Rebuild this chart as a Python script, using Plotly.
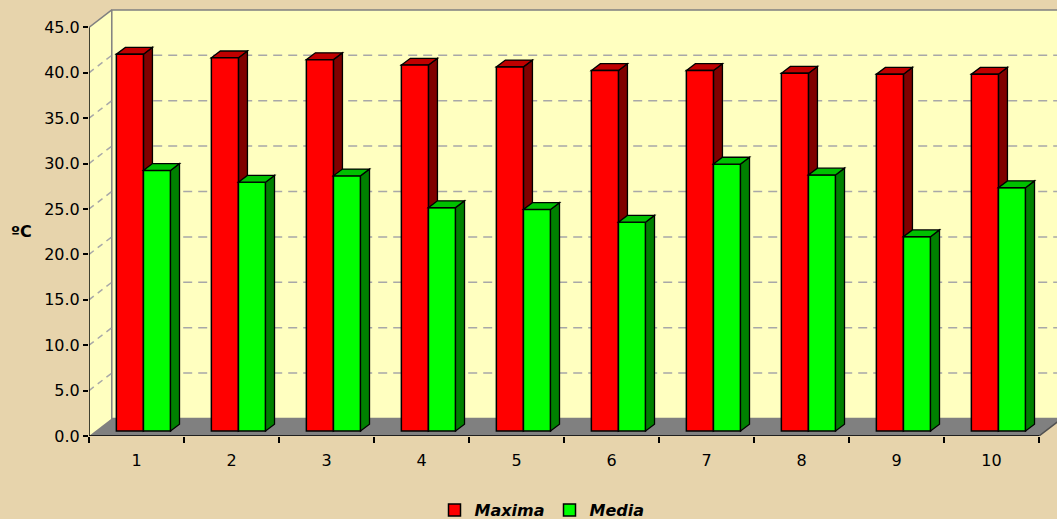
import plotly.graph_objects as go

# ---- data ----
categories = [1, 2, 3, 4, 5, 6, 7, 8, 9, 10]
tick_labels = ["1", "2", "3", "4", "5", "6", "7", "8", "9", "10"]
maxima = [41.5, 41.1, 40.9, 40.3, 40.1, 39.7, 39.7, 39.4, 39.3, 39.3]
media = [28.7, 27.4, 28.1, 24.6, 24.4, 23.0, 29.4, 28.2, 21.4, 26.8]
y_ticks = [0, 5, 10, 15, 20, 25, 30, 35, 40, 45]
y_tick_labels = ["%.1f" % v for v in y_ticks]

# ---- style constants (pseudo-3D geometry in axis units) ----
FONT = "DejaVu Sans"
FS = 16
PX_X = 95.0          # px per category
PX_Y = 9.08          # px per degree
WALL_DX = 22.8 / PX_X
WALL_DY = 17.5 / PX_Y
BAR_DX = 9.0 / PX_X
BAR_DY = 6.8 / PX_Y
BAR_BASE = 5.0 / PX_Y
BAR_W = 0.285
RED_OFF = -0.212
GREEN_OFF = RED_OFF + BAR_W
WALL = "#FFFFC0"
BG = "#E7D4AC"

L, T, B = 89, 7, 83
W, H = 1057, 519
x_max = 0.5 + (W - L) / PX_X
y_max = (H - B - T) / PX_Y

fig = go.Figure()
fig.add_trace(go.Bar(x=categories, y=maxima, base=BAR_BASE, name="Maxima",
                     offset=RED_OFF, width=BAR_W,
                     marker=dict(color="#FF0000", line=dict(color="black", width=1.5))))
fig.add_trace(go.Bar(x=categories, y=media, base=BAR_BASE, name="Media",
                     offset=GREEN_OFF, width=BAR_W,
                     marker=dict(color="#00FF00", line=dict(color="black", width=1.5))))

shapes = []
def path(pts):
    return "M " + " L ".join("%f,%f" % p for p in pts) + " Z"

x0 = 0.5
x1 = 0.5 + len(categories)
top = y_ticks[-1]
# left wall
shapes.append(dict(type="path", xref="x", yref="y", layer="below",
                   path=path([(x0, 0), (x0, top), (x0 + WALL_DX, top + WALL_DY), (x0 + WALL_DX, WALL_DY)]),
                   fillcolor=WALL, line=dict(width=0)))
# back wall
shapes.append(dict(type="rect", xref="x", yref="y", layer="below",
                   x0=x0 + WALL_DX, x1=x_max + 1, y0=WALL_DY, y1=top + WALL_DY,
                   fillcolor=WALL, line=dict(color="#808080", width=1.5)))
# gridlines
for v in y_ticks[1:-1]:
    shapes.append(dict(type="line", xref="x", yref="y", layer="below",
                       x0=x0, y0=v, x1=x0 + WALL_DX, y1=v + WALL_DY,
                       line=dict(color="#A8A8A8", width=1.5, dash="6px,5px")))
    shapes.append(dict(type="line", xref="x", yref="y", layer="below",
                       x0=x0 + WALL_DX + 0.12, y0=v + WALL_DY, x1=x_max + 1, y1=v + WALL_DY,
                       line=dict(color="#A8A8A8", width=1.5, dash="9px,6px")))
# top diagonal of side wall
shapes.append(dict(type="line", xref="x", yref="y", layer="below",
                   x0=x0, y0=top, x1=x0 + WALL_DX, y1=top + WALL_DY,
                   line=dict(color="#808080", width=1.5)))
# floor
shapes.append(dict(type="path", xref="x", yref="y", layer="below",
                   path=path([(x0, 0), (x1, 0), (x1 + WALL_DX, WALL_DY), (x0 + WALL_DX, WALL_DY)]),
                   fillcolor="#808080", line=dict(width=0)))
shapes.append(dict(type="line", xref="x", yref="y", layer="below",
                   x0=x1, y0=0, x1=x1 + WALL_DX, y1=WALL_DY,
                   line=dict(color="#505050", width=1.5)))
shapes.append(dict(type="line", xref="x", yref="y", layer="below",
                   x0=x0, y0=0, x1=x1, y1=0, line=dict(color="black", width=1.5)))
shapes.append(dict(type="line", xref="x", yref="y", layer="below",
                   x0=x0, y0=0, x1=x0, y1=top, line=dict(color="black", width=1.5)))

def faces(values, off, side_col, top_col, layer):
    out = []
    for c, v in zip(categories, values):
        xl = c + off
        xr = xl + BAR_W
        yb = BAR_BASE
        yt = BAR_BASE + v
        out.append(dict(type="path", xref="x", yref="y", layer=layer,
                        path=path([(xr, yb), (xr, yt), (xr + BAR_DX, yt + BAR_DY), (xr + BAR_DX, yb + BAR_DY)]),
                        fillcolor=side_col, line=dict(color="black", width=1.3)))
        out.append(dict(type="path", xref="x", yref="y", layer=layer,
                        path=path([(xl, yt), (xr, yt), (xr + BAR_DX, yt + BAR_DY), (xl + BAR_DX, yt + BAR_DY)]),
                        fillcolor=top_col, line=dict(color="black", width=1.3)))
    return out

shapes += faces(maxima, RED_OFF, "#800000", "#C00000", "below")
shapes += faces(media, GREEN_OFF, "#008000", "#00C000", "above")

fig.update_layout(
    width=W, height=H,
    margin=dict(l=L, r=0, t=T, b=B),
    paper_bgcolor=BG, plot_bgcolor="rgba(0,0,0,0)",
    barmode="overlay",
    shapes=shapes,
    font=dict(family=FONT, size=FS, color="black"),
    showlegend=True,
    hovermode=False,
    legend=dict(orientation="h", xref="container", yref="container",
                x=542 / W, xanchor="center", y=(H - 510) / H, yanchor="middle",
                font=dict(family=FONT, size=FS, weight="bold", style="italic"),
                bgcolor="rgba(0,0,0,0)", traceorder="normal", itemwidth=30),
    xaxis=dict(range=[0.5, x_max], tickmode="array", tickvals=categories, ticktext=tick_labels,
               ticks="outside", ticklen=10, tickcolor="rgba(0,0,0,0)",
               minor=dict(tickmode="array", tickvals=[c - 0.5 for c in categories] + [categories[-1] + 0.5],
                          ticks="outside", ticklen=6, tickcolor="black", tickwidth=1.5, showgrid=False),
               showline=False, showgrid=False, zeroline=False, fixedrange=True),
    yaxis=dict(range=[0, y_max], tickmode="array", tickvals=y_ticks, ticktext=y_tick_labels,
               ticks="outside", ticklen=5, tickcolor="black", tickwidth=1.5,
               showline=False, showgrid=False, zeroline=False, fixedrange=True),
    annotations=[dict(text="<b>ºC</b>", xref="paper", yref="paper", x=(21 - L) / (W - L),
                      xanchor="center", yanchor="middle",
                      y=(436 - 231) / (H - B - T), showarrow=False,
                      font=dict(family=FONT, size=FS))],
)

page_js = (
    "var s=document.documentElement.style;s.margin='0';s.padding='0';s.overflow='hidden';s.height='%dpx';"
    "var b=document.body.style;b.margin='0';b.padding='0';b.overflow='hidden';b.height='%dpx';b.background='%s';"
) % (H, H, BG)

fig.write_html("out.html", config={"displayModeBar": False}, post_script=page_js)
